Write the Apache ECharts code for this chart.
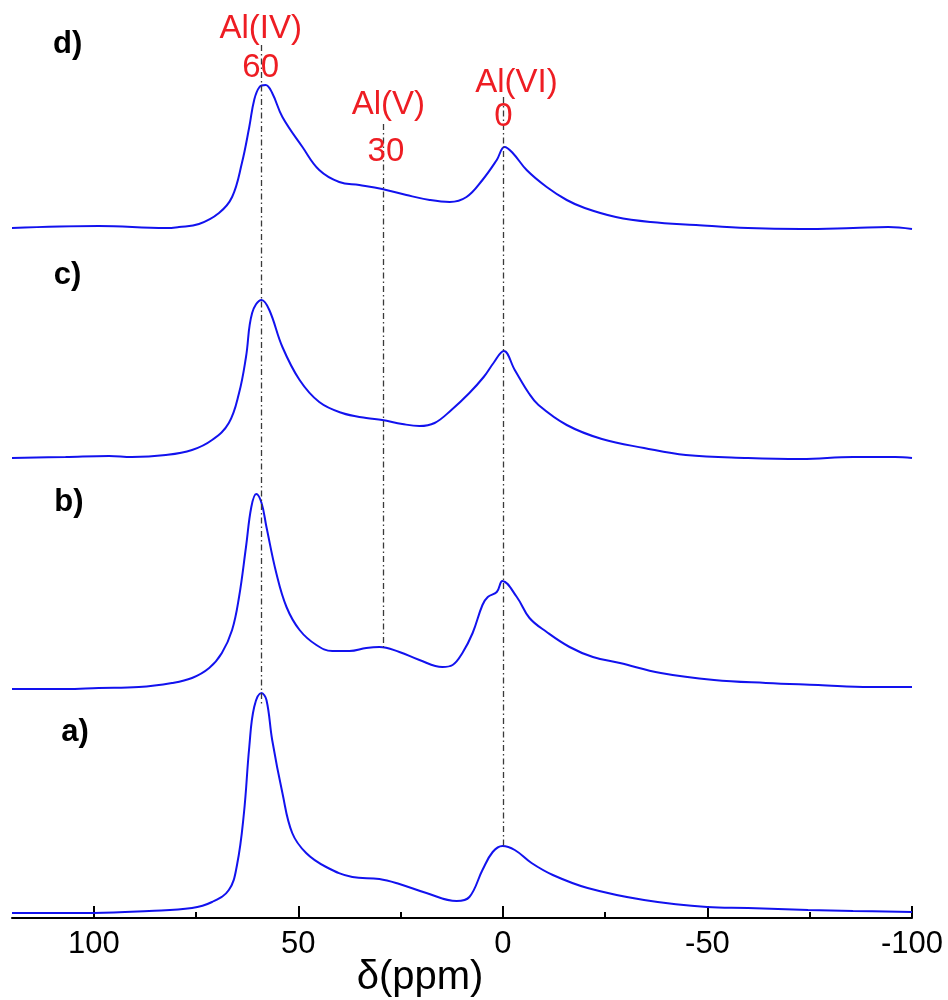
<!DOCTYPE html>
<html>
<head>
<meta charset="utf-8">
<script src="https://cdn.jsdelivr.net/npm/echarts@6/dist/echarts.min.js"></script>
<style>
  html, body { margin: 0; padding: 0; background: #fff; overflow: hidden; }
  #chart { width: 948px; height: 1000px; }
</style>
</head>
<body>
<div id="chart"></div>
<script>
// 27Al MAS NMR spectra, samples a) to d), stacked bottom to top.
// Chemical shift in ppm, intensity in arbitrary units above each trace's baseline.
const ppmA = [120, 100, 86.5, 76, 71.1, 67, 65, 63.3, 62, 60.8, 59, 57.8, 56.4, 53.9, 51.5, 48.1, 43.2, 36.8, 30.2, 25.3, 18.7, 11.3, 8.2, 5.0, 2.5, 0.1, -2.9, -7.0, -12.2, -20.7, -34.5, -49.9, -59.9, -74.6, -85.6, -100];
const intA = [0, 0, 2, 5, 11, 23, 48, 100, 166, 206, 220, 213, 173, 120, 80, 60, 46, 36, 34, 29, 20, 12, 16, 43, 61, 67, 63, 50, 38, 25, 13, 6, 5, 3, 2, 1];

const ppmB = [120, 106.9, 98.8, 89, 80.9, 76, 71.8, 68.7, 66.2, 64.5, 62.8, 61.5, 60.3, 59.0, 57.8, 55.4, 52.9, 49.7, 45.6, 41.7, 37.5, 33.4, 30.2, 25.3, 20.4, 14.8, 12.3, 9.9, 7.4, 5.0, 3.7, 1.5, 0.1, -3.4, -6.5, -10.7, -16.3, -22.0, -28.6, -38.6, -51.6, -64.3, -77.1, -89.8, -100];
const intB = [0, 0, 1, 2, 6, 11, 21, 36, 59, 92, 142, 182, 195, 186, 162, 116, 82, 59, 44, 38, 38, 41, 42, 37, 29, 22, 24, 36, 56, 84, 92, 97, 108, 92, 71, 57, 42, 32, 26, 16, 9, 6, 4, 2, 2];

const ppmC = [120, 106.9, 96.3, 90.7, 82.4, 76.0, 71.1, 67.0, 64.5, 62.8, 61.3, 59.0, 57.1, 53.9, 49.7, 44.9, 39.3, 33.4, 29.5, 24.6, 20.4, 16.7, 12.6, 8.2, 4.7, 2.3, -0.2, -2.9, -6.3, -8.7, -15.6, -24.2, -34.5, -44.7, -59.9, -72.9, -85.6, -95.9, -100];
const intC = [0, 1, 2, 1, 3, 8, 18, 35, 65, 101, 145, 158, 148, 111, 78, 56, 45, 40, 38, 34, 32, 35, 48, 65, 81, 95, 107, 88, 65, 53, 33, 19, 10, 3, 0, -1, 1, 1, 0];

const ppmD = [120, 98.8, 82.4, 79.2, 74.3, 69.4, 66.2, 63.8, 62.0, 60.8, 59.5, 58.0, 56.4, 53.9, 49.0, 44.9, 40.0, 35.1, 29.5, 23.6, 17.9, 13.0, 8.9, 5.0, 1.5, -0.4, -2.4, -5.8, -10.7, -15.6, -20.0, -27.6, -36.1, -47.2, -59.9, -72.9, -85.6, -94.2, -100];
const intD = [0, 2, 0, 1, 4, 15, 31, 65, 101, 128, 141, 143, 135, 111, 81, 58, 46, 43, 39, 33, 28, 26, 31, 48, 68, 81, 75, 58, 41, 28, 20, 11, 6, 3, 0, -1, 0, 1, -1];

const SAMPLE_LABELS = ['a)', 'b)', 'c)', 'd)'];
const STACK_OFFSETS = [5, 229, 460, 690];

// Reference positions of the Al coordination environments
const SITE_NAMES = ['Al(IV)', 'Al(V)', 'Al(VI)'];
const SITE_SHIFT_TEXT = ['60', '30', '0'];
const SITE_PPM = [59.1, 29.2, 0];
const SITE_LINE_TOP = [873, 794, 821];
const SITE_LINE_BOTTOM = [213, 271, 70];

const X_MAJOR_TICKS = [100, 50, 0, -50, -100];
const X_MINOR_TICKS = [75, 25, -25, -75];

const FONT = '"Liberation Sans", Arial, sans-serif';
const TRACE_COLOR = '#1212ee';
const SITE_COLOR = '#ee1d23';

const spectra = [[ppmA, intA], [ppmB, intB], [ppmC, intC], [ppmD, intD]];

const series = spectra.map(([ppm, inten], i) => ({
  name: SAMPLE_LABELS[i],
  type: 'line',
  xAxisIndex: 0,
  yAxisIndex: 0,
  showSymbol: false,
  smooth: 0.4,
  lineStyle: { color: TRACE_COLOR, width: 2 },
  data: ppm.map((p, j) => [p, STACK_OFFSETS[i] + inten[j]]),
  silent: true,
  z: 3
}));

// dash-dot guide lines at the site positions
series.push({
  type: 'line',
  data: [],
  silent: true,
  markLine: {
    silent: true,
    symbol: 'none',
    label: { show: false },
    lineStyle: { color: '#3a3a3a', width: 1.3, type: [6, 3, 1.5, 3] },
    data: SITE_PPM.map((p, k) => [
      { coord: [p, SITE_LINE_TOP[k]] },
      { coord: [p, SITE_LINE_BOTTOM[k]] }
    ])
  },
  z: 2
});

const option = {
  animation: false,
  backgroundColor: '#fff',
  grid: { left: 12, right: 36, top: 0, bottom: 82, containLabel: false, outerBoundsMode: 'none' },
  xAxis: [
    {
      type: 'value',
      min: -100,
      max: 120,
      inverse: true,
      position: 'bottom',
      axisLine: { show: true, lineStyle: { color: '#000', width: 2 } },
      axisTick: { show: true, inside: true, length: 12, lineStyle: { color: '#000', width: 2 }, customValues: X_MAJOR_TICKS },
      axisLabel: { show: true, customValues: X_MAJOR_TICKS, color: '#000', fontSize: 31, fontFamily: FONT, margin: 11 },
      splitLine: { show: false },
      name: 'δ(ppm)',
      nameLocation: 'middle',
      nameGap: 40,
      nameMoveOverlap: false,
      nameTextStyle: { color: '#000', fontSize: 40, fontFamily: FONT, padding: [0, 84, 0, 0] }
    },
    {
      type: 'value',
      min: -100,
      max: 120,
      inverse: true,
      position: 'bottom',
      axisLine: { show: false },
      axisTick: { show: true, inside: true, length: 6, lineStyle: { color: '#000', width: 2 }, customValues: X_MINOR_TICKS },
      axisLabel: { show: false },
      splitLine: { show: false }
    }
  ],
  yAxis: {
    type: 'value',
    min: 0,
    max: 918,
    show: false,
    splitLine: { show: false }
  },
  series
};

const chart = echarts.init(document.getElementById('chart'), null, { renderer: 'canvas', width: 948, height: 1000 });
chart.setOption(option);

// text annotations placed in data coordinates (ppm, stacked intensity)
const px = (p, v) => chart.convertToPixel({ gridIndex: 0 }, [p, v]);
function textEl(text, p, v, size, color, weight) {
  const [x, y] = px(p, v);
  return {
    type: 'text',
    x, y,
    silent: true,
    z: 10,
    style: {
      text,
      fill: color,
      font: `${weight || 'normal'} ${size}px ${FONT}`,
      align: 'center',
      verticalAlign: 'middle',
      textAlign: 'center',
      textVerticalAlign: 'middle'
    }
  };
}

const SAMPLE_LABEL_POS = [[104.6, 186], [106.1, 416], [106.4, 643], [106.4, 874]];
const SITE_NAME_POS = [[59.2, 889], [28.0, 813], [-3.3, 835]];
const SITE_SHIFT_POS = [[59.2, 850], [28.6, 766], [-0.1, 801]];

const elements = [];
SAMPLE_LABELS.forEach((t, i) => elements.push(textEl(t, SAMPLE_LABEL_POS[i][0], SAMPLE_LABEL_POS[i][1], 31, '#000', 'bold')));
SITE_NAMES.forEach((t, k) => elements.push(textEl(t, SITE_NAME_POS[k][0], SITE_NAME_POS[k][1], 33, SITE_COLOR)));
SITE_SHIFT_TEXT.forEach((t, k) => elements.push(textEl(t, SITE_SHIFT_POS[k][0], SITE_SHIFT_POS[k][1], 33, SITE_COLOR)));

chart.setOption({ graphic: { elements } });
</script>
</body>
</html>
